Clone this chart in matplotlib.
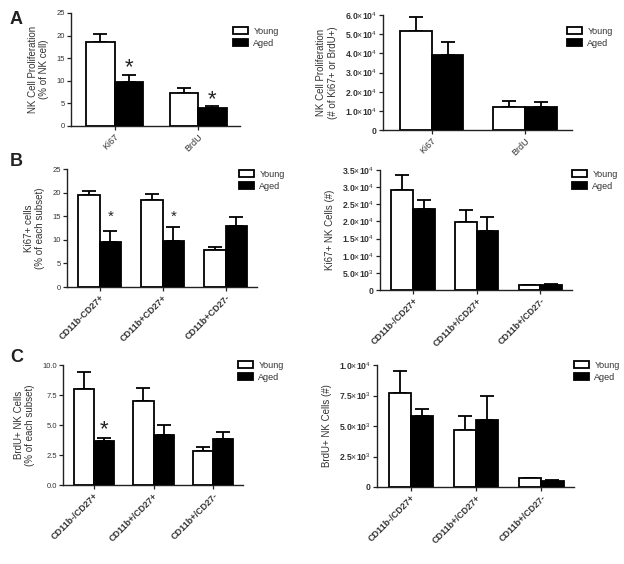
import numpy as np
import matplotlib.pyplot as plt

plt.rcParams['font.family'] = ['Liberation Sans', 'DejaVu Sans']
plt.rcParams['mathtext.fontset'] = 'custom'
plt.rcParams['mathtext.rm'] = 'Liberation Sans'
plt.rcParams['mathtext.bf'] = 'Liberation Sans:bold'
plt.rcParams['text.color'] = '#333333'

# datos
cats_a = ["Ki67", "BrdU"]
cats_b = ["CD11b-CD27+", "CD11b+CD27+", "CD11b+CD27-"]
cats_b2 = ["CD11b-/CD27+", "CD11b+/CD27+", "CD11b+/CD27-"]
cats_c = ["CD11b-/CD27+", "CD11b+/CD27+", "CD11b+/CD27-"]

a1_young = [18.6, 7.2]
a1_young_err = [1.7, 1.1]
a1_aged = [9.8, 4.0]
a1_aged_err = [1.5, 0.5]

a2_young = [5.15e4, 1.2e4]
a2_young_err = [0.75e4, 0.3e4]
a2_aged = [3.9e4, 1.2e4]
a2_aged_err = [0.7e4, 0.25e4]

b1_young = [19.5, 18.5, 7.8]
b1_young_err = [0.8, 1.3, 0.6]
b1_aged = [9.5, 9.8, 12.9]
b1_aged_err = [2.3, 2.9, 1.9]

b2_young = [2.93e4, 1.97e4, 1.5e3]
b2_young_err = [0.42e4, 0.35e4, 0.1e3]
b2_aged = [2.37e4, 1.72e4, 1.5e3]
b2_aged_err = [0.26e4, 0.4e4, 0.3e3]

c1_young = [8.0, 7.0, 2.8]
c1_young_err = [1.4, 1.1, 0.4]
c1_aged = [3.7, 4.2, 3.8]
c1_aged_err = [0.25, 0.8, 0.6]

c2_young = [7.7e3, 4.7e3, 700]
c2_young_err = [1.8e3, 1.1e3, 60]
c2_aged = [5.8e3, 5.5e3, 500]
c2_aged_err = [0.6e3, 2.0e3, 60]

W, H = 624, 564
fig = plt.figure(figsize=(W / 100, H / 100), dpi=100)


def px_axes(x0, y0, x1, y1):
    return fig.add_axes([x0 / W, 1 - y1 / H, (x1 - x0) / W, (y1 - y0) / H])


def panel(box, cats, young, young_err, aged, aged_err, ylim, yticks, ytlabels,
          ylabel, legxy, bold=False, xbold=True, stars=None, star_size=14,
          ytsize=5.5):
    ax = px_axes(*box)
    x = np.arange(len(cats))
    w = 0.34
    ew = 1.3
    ax.bar(x - w / 2, young, w, color='white', edgecolor='black', linewidth=ew,
           label='Young', zorder=3)
    ax.bar(x + w / 2, aged, w, color='black', edgecolor='black', linewidth=ew,
           label='Aged', zorder=3)
    ax.errorbar(x - w / 2, young, yerr=[np.zeros(len(x)), young_err], fmt='none',
                ecolor='black', elinewidth=ew, capsize=5, capthick=ew, zorder=2)
    ax.errorbar(x + w / 2, aged, yerr=[np.zeros(len(x)), aged_err], fmt='none',
                ecolor='black', elinewidth=ew, capsize=5, capthick=ew, zorder=2)
    ax.set_xlim(-0.52, len(cats) - 0.5)
    ax.set_ylim(*ylim)
    wt = 'bold' if bold else 'normal'
    ax.set_yticks(yticks)
    ax.set_yticklabels(ytlabels, fontsize=ytsize, fontweight=wt, color='#333333')
    ax.set_xticks(x)
    ax.set_xticklabels(cats, rotation=45, ha='right', rotation_mode='anchor',
                       fontsize=6.5, fontweight='bold' if xbold else 'normal',
                       color='#333333')
    ax.set_ylabel(ylabel, fontsize=7, color='#333333', labelpad=5)
    for s in ['top', 'right']:
        ax.spines[s].set_visible(False)
    for s in ['left', 'bottom']:
        ax.spines[s].set_linewidth(1.0)
        ax.spines[s].set_color('#222222')
    ax.tick_params(length=3, width=0.9, color='#222222', pad=1.5)
    if stars:
        for i, yv in stars:
            ax.text(x[i] + w / 2, yv, '*', ha='center', va='center',
                    fontsize=star_size, color='#222222')
    ax.legend(loc='upper left', bbox_to_anchor=(legxy[0] / W, 1 - legxy[1] / H),
              bbox_transform=fig.transFigure, frameon=False, borderpad=0,
              handlelength=1.7, handleheight=0.8, labelspacing=0.35,
              handletextpad=0.6, fontsize=6.5)
    return ax


def sci(m, e):
    return r"%s$\times$10$^{%d}$" % (m, e)


panel((71, 13, 240, 126), cats_a, a1_young, a1_young_err, a1_aged, a1_aged_err,
      (0, 25), [0, 5, 10, 15, 20, 25], ['0', '5', '10', '15', '20', '25'],
      "NK Cell Proliferation\n(% of NK cell)", (228, 22), xbold=False,
      stars=[(0, 13.0), (1, 5.8)], star_size=16)

panel((383, 15, 572, 130), cats_a, a2_young, a2_young_err, a2_aged, a2_aged_err,
      (0, 6e4), [0, 1e4, 2e4, 3e4, 4e4, 5e4, 6e4],
      ['0'] + [sci("%.1f" % v, 4) for v in [1, 2, 3, 4, 5, 6]],
      "NK Cell Proliferation\n(# of Ki67+ or BrdU+)", (562, 22), bold=True,
      xbold=False, ytsize=6.2)

panel((67, 169, 257, 287), cats_b, b1_young, b1_young_err, b1_aged, b1_aged_err,
      (0, 25), [0, 5, 10, 15, 20, 25], ['0', '5', '10', '15', '20', '25'],
      "Ki67+ cells\n(% of each subset)", (234, 165),
      stars=[(0, 14.8), (1, 14.8)], star_size=11)

panel((380, 170, 572, 290), cats_b2, b2_young, b2_young_err, b2_aged, b2_aged_err,
      (0, 3.5e4), [0, 5e3, 1e4, 1.5e4, 2e4, 2.5e4, 3e4, 3.5e4],
      ['0', sci("5.0", 3)] + [sci("%.1f" % v, 4) for v in [1, 1.5, 2, 2.5, 3, 3.5]],
      "Ki67+ NK Cells (#)", (567, 165), bold=True, ytsize=6.2)

panel((63, 365, 243, 485), cats_c, c1_young, c1_young_err, c1_aged, c1_aged_err,
      (0, 10), [0, 2.5, 5, 7.5, 10], ['0.0', '2.5', '5.0', '7.5', '10.0'],
      "BrdU+ NK Cells\n(% of each subset)", (233, 356),
      stars=[(0, 4.6)], star_size=16)

panel((377, 365, 574, 487), cats_c, c2_young, c2_young_err, c2_aged, c2_aged_err,
      (0, 1e4), [0, 2.5e3, 5e3, 7.5e3, 1e4],
      ['0', sci("2.5", 3), sci("5.0", 3), sci("7.5", 3), sci("1.0", 4)],
      "BrdU+ NK Cells (#)", (569, 356), bold=True, ytsize=6.2)

# letras de panel
for lab, yy in [("A", 19), ("B", 162), ("C", 358)]:
    fig.text(10 / W, 1 - yy / H, lab, fontsize=13, fontweight='bold',
             color='#222222', ha='left', va='center')

fig.savefig("out.png", dpi=100)
